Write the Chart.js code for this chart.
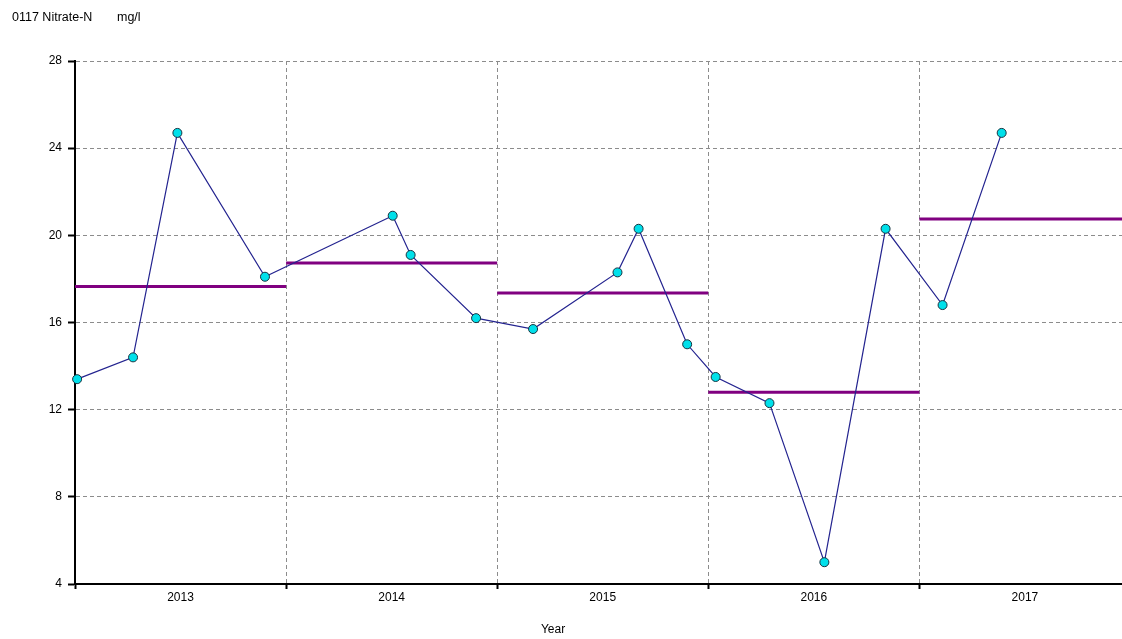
<!DOCTYPE html>
<html>
<head>
<meta charset="utf-8">
<title>0117 Nitrate-N</title>
<script src="https://cdn.jsdelivr.net/npm/chart.js@4.4.1/dist/chart.umd.min.js"></script>
<style>
  body { margin: 0; background: #fff; }
  canvas { display: block; }
</style>
</head>
<body>
<canvas id="chart" width="1122" height="639"></canvas>
<script>
// sample dates as decimal years
const sampleDates = [2013.01, 2013.275, 2013.485, 2013.90, 2014.505, 2014.59, 2014.90,
    2015.17, 2015.57, 2015.67, 2015.90, 2016.035, 2016.29, 2016.55, 2016.84,
    2017.11, 2017.39];
const nitrate = [13.4, 14.4, 24.7, 18.1, 20.9, 19.1, 16.2, 15.7, 18.3, 20.3, 15.0,
    13.5, 12.3, 5.0, 20.3, 16.8, 24.7];
const years = [2013, 2014, 2015, 2016, 2017];
const yearlyMeans = [17.65, 18.73, 17.35, 12.8, 20.75];
const yTicks = [4, 8, 12, 16, 20, 24, 28];
const xMin = 2013;
const xMax = 2017.96;

// integer years carry the grid line, half years carry the label
const xTickValues = years.flatMap((y) => [y, y + 0.5]).filter((v) => v <= xMax);

Chart.defaults.font.family = "'Liberation Sans', Arial, sans-serif";
Chart.defaults.font.size = 12;
Chart.defaults.color = "#000";

const meanSets = years.map((yr, i) => ({
    data: [{ x: yr, y: yearlyMeans[i] }, { x: yr + 1, y: yearlyMeans[i] }],
    showLine: true,
    borderColor: "#800080",
    borderWidth: 3,
    pointRadius: 0,
    order: 2,
}));

const series = {
    data: sampleDates.map((d, i) => ({ x: d, y: nitrate[i] })),
    showLine: true,
    borderColor: "#23238f",
    borderWidth: 1.2,
    pointRadius: 4.5,
    pointBackgroundColor: "#00e0ea",
    pointBorderColor: "#17323f",
    pointBorderWidth: 1,
    clip: false,
    order: 1,
};

// header text and the x axis caption, placed like the original
const labels = {
    id: "labels",
    afterDraw(chart) {
        const ctx = chart.ctx;
        ctx.save();
        ctx.font = "12.5px 'Liberation Sans', Arial, sans-serif";
        ctx.fillStyle = "#000";
        ctx.textBaseline = "middle";
        ctx.fillText("0117 Nitrate-N", 12, 18);
        ctx.fillText("mg/l", 117, 18);
        ctx.font = "12px 'Liberation Sans', Arial, sans-serif";
        ctx.textAlign = "center";
        ctx.fillText("Year", 553, 630);
        ctx.restore();
    },
};

const gridGrey = "#8c8c8c";

const config = {
    type: "scatter",
    data: { datasets: [series, ...meanSets] },
    options: {
        responsive: false,
        animation: false,
        devicePixelRatio: 1,
        layout: { autoPadding: false, padding: { top: 61, left: 0, right: 0, bottom: 0 } },
        plugins: { legend: { display: false }, tooltip: { enabled: false } },
        scales: {
            x: {
                type: "linear",
                min: xMin,
                max: xMax,
                afterBuildTicks: (scale) => {
                    scale.ticks = xTickValues.map((v) => ({ value: v }));
                },
                afterFit: (scale) => {
                    scale.height = 55;
                    scale.paddingLeft = 0;
                    scale.paddingRight = 0;
                },
                ticks: {
                    autoSkip: false,
                    maxRotation: 0,
                    padding: 1,
                    callback: (v) => (Number.isInteger(v) ? "" : String(Math.floor(v))),
                },
                grid: {
                    color: (c) =>
                        c.tick && Number.isInteger(c.tick.value) && c.tick.value !== xMin
                            ? gridGrey
                            : "transparent",
                    tickColor: (c) => (c.tick && Number.isInteger(c.tick.value) ? "#000" : "transparent"),
                    tickLength: 5,
                    tickWidth: 2,
                },
                border: { color: "#000", width: 2, dash: [4, 3] },
            },
            y: {
                min: 4,
                max: 28,
                afterBuildTicks: (scale) => {
                    scale.ticks = yTicks.map((v) => ({ value: v }));
                },
                afterFit: (scale) => {
                    scale.width = 75;
                },
                ticks: { padding: 6 },
                grid: {
                    color: (c) => (c.tick && c.tick.value === yTicks[0] ? "transparent" : gridGrey),
                    tickColor: "#000",
                    tickLength: 7,
                    tickWidth: 2,
                },
                border: { color: "#000", width: 2, dash: [4, 3] },
            },
        },
    },
    plugins: [labels],
};

const myChart = new Chart(document.getElementById("chart"), config);
</script>
</body>
</html>
